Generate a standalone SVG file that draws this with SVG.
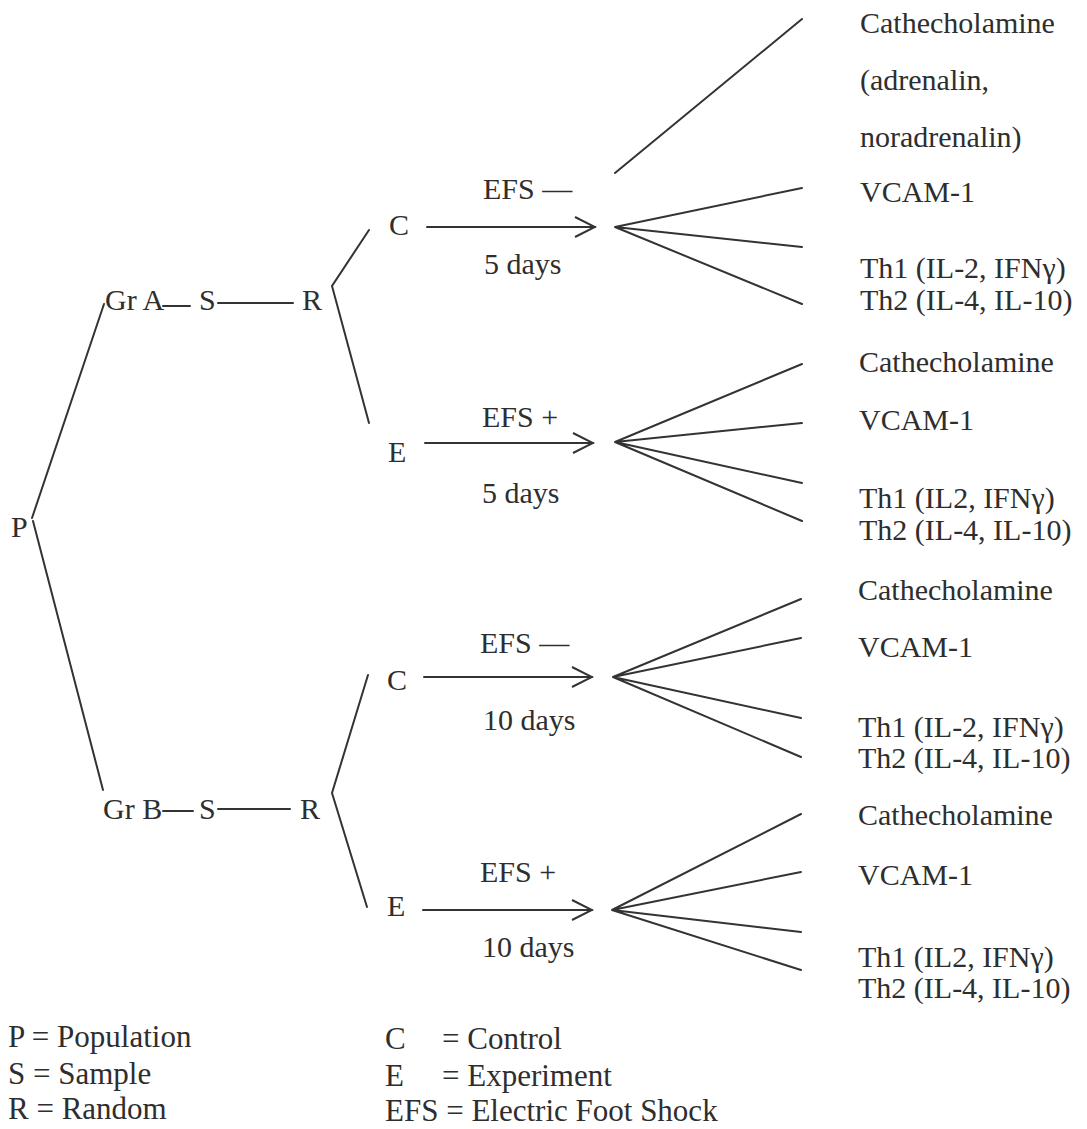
<svg xmlns="http://www.w3.org/2000/svg" width="1087" height="1129" viewBox="0 0 1087 1129">
<defs>
<style>
text{font-family:"Liberation Serif","Times New Roman",serif;font-size:30px;fill:#2e2e2e}
.lg{font-size:31px}
.ln{stroke:#333;stroke-width:2;fill:none;stroke-linecap:round}
</style>
<marker id="chev" viewBox="-22 -12 24 24" refX="0" refY="0" markerWidth="24" markerHeight="24" markerUnits="userSpaceOnUse" orient="auto">
<path d="M-20,-10 L0,0 L-20,10" fill="none" stroke="#333" stroke-width="2"/>
</marker>
</defs>
<rect width="1087" height="1129" fill="#fff"/>

<g id="connectors" class="ln">
<line x1="32" y1="518" x2="104" y2="304"/>
<line x1="33" y1="521" x2="103" y2="790"/>
<line x1="163" y1="306" x2="190" y2="306"/>
<line x1="218" y1="303" x2="293" y2="303"/>
<line x1="163" y1="811" x2="193" y2="811"/>
<line x1="218" y1="809" x2="290" y2="809"/>
<polyline points="369,230 332,286 369,423"/>
<polyline points="368,675 332,793 367,907"/>
<line x1="427" y1="227" x2="595" y2="227" marker-end="url(#chev)"/>
<line x1="425" y1="443" x2="593" y2="443" marker-end="url(#chev)"/>
<line x1="424" y1="677" x2="592" y2="677" marker-end="url(#chev)"/>
<line x1="423" y1="910" x2="592" y2="910" marker-end="url(#chev)"/>
<line x1="615" y1="173" x2="802" y2="19"/>
<path d="M802,188 L615,227 L802,247 M615,227 L802,304"/>
<path d="M802,364 L615,442 L802,423 M615,442 L802,483 M615,442 L802,521"/>
<path d="M801,599 L613,677 L801,638 M613,677 L801,718 M613,677 L801,757"/>
<path d="M801,814 L612,910 L801,872 M612,910 L801,932 M612,910 L801,970"/>
</g>

<g id="node-P"><text x="11" y="537">P</text></g>
<g id="node-GrA"><text x="105" y="310">Gr A</text></g>
<g id="node-SA"><text x="199" y="310">S</text></g>
<g id="node-RA"><text x="302" y="310">R</text></g>
<g id="node-GrB"><text x="103" y="819">Gr B</text></g>
<g id="node-SB"><text x="199" y="819">S</text></g>
<g id="node-RB"><text x="300" y="819">R</text></g>

<g id="node-C1"><text x="389" y="235">C</text></g>
<g id="node-E1"><text x="388" y="462">E</text></g>
<g id="node-C2"><text x="387" y="690">C</text></g>
<g id="node-E2"><text x="387" y="916">E</text></g>

<g id="labels-arrow1"><text x="483" y="199">EFS —</text><text x="484" y="274">5 days</text></g>
<g id="labels-arrow2"><text x="482" y="427">EFS +</text><text x="482" y="503">5 days</text></g>
<g id="labels-arrow3"><text x="480" y="653">EFS —</text><text x="483" y="730">10 days</text></g>
<g id="labels-arrow4"><text x="480" y="882">EFS +</text><text x="482" y="957">10 days</text></g>

<g id="outcomes-1">
<text x="860" y="33">Cathecholamine</text>
<text x="860" y="90">(adrenalin,</text>
<text x="860" y="147">noradrenalin)</text>
<text x="860" y="202">VCAM-1</text>
<text x="860" y="278">Th1 (IL-2, IFNγ)</text>
<text x="860" y="310">Th2 (IL-4, IL-10)</text>
</g>
<g id="outcomes-2">
<text x="859" y="372">Cathecholamine</text>
<text x="859" y="430">VCAM-1</text>
<text x="859" y="508">Th1 (IL2, IFNγ)</text>
<text x="859" y="540">Th2 (IL-4, IL-10)</text>
</g>
<g id="outcomes-3">
<text x="858" y="600">Cathecholamine</text>
<text x="858" y="657">VCAM-1</text>
<text x="858" y="737">Th1 (IL-2, IFNγ)</text>
<text x="858" y="768">Th2 (IL-4, IL-10)</text>
</g>
<g id="outcomes-4">
<text x="858" y="825">Cathecholamine</text>
<text x="858" y="885">VCAM-1</text>
<text x="858" y="967">Th1 (IL2, IFNγ)</text>
<text x="858" y="998">Th2 (IL-4, IL-10)</text>
</g>

<g id="legend">
<text class="lg" x="8" y="1047">P = Population</text>
<text class="lg" x="8" y="1084">S = Sample</text>
<text class="lg" x="8" y="1119">R = Random</text>
<text class="lg" x="385" y="1049">C</text><text class="lg" x="442" y="1049">= Control</text>
<text class="lg" x="385" y="1086">E</text><text class="lg" x="442" y="1086">= Experiment</text>
<text class="lg" x="385" y="1121">EFS = Electric Foot Shock</text>
</g>
</svg>
